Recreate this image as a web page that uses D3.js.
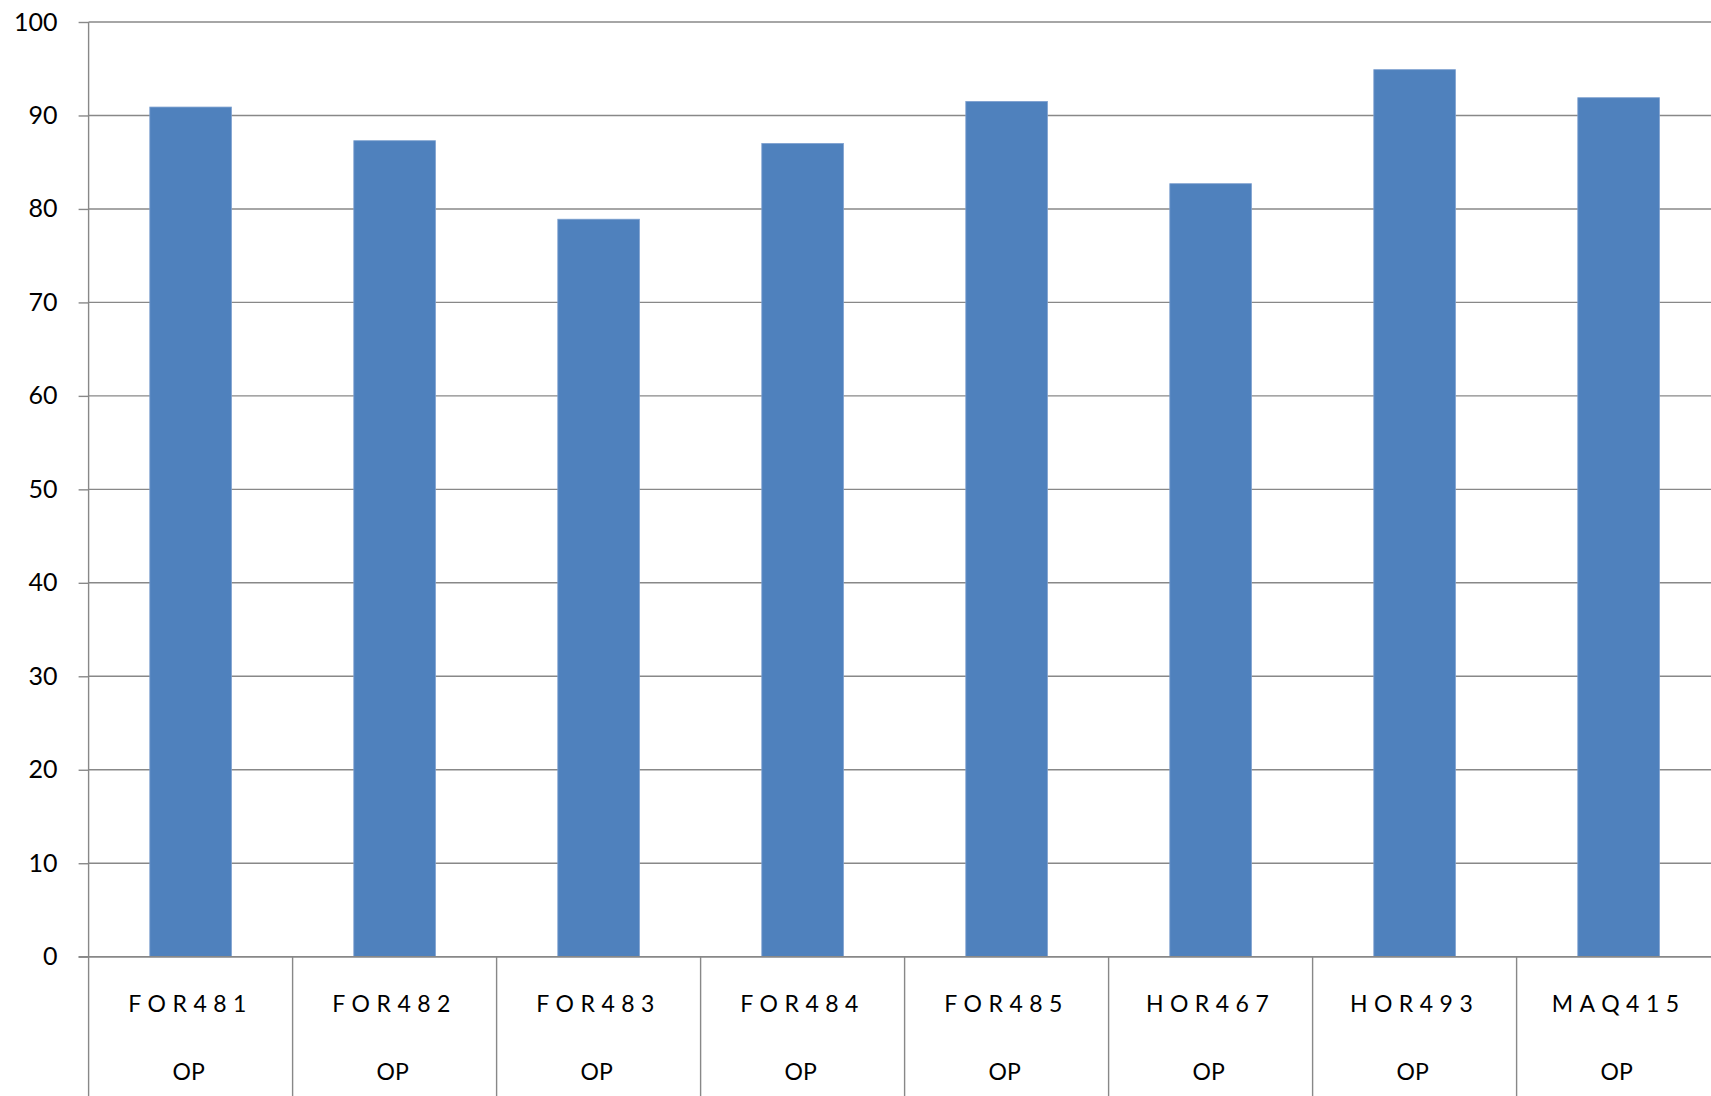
<!DOCTYPE html>
<html>
<head>
<meta charset="utf-8">
<script src="https://cdn.jsdelivr.net/npm/d3@7"></script>
<style>
  html, body { margin: 0; padding: 0; background: #fff; overflow: hidden; }
  svg { display: block; font-family: Lato, "Open Sans", sans-serif; }
</style>
</head>
<body>
<svg id="chart" width="1711" height="1096"></svg>
<script>
const categories = ["FOR481", "FOR482", "FOR483", "FOR484", "FOR485", "HOR467", "HOR493", "MAQ415"];
const groupLabels = ["OP", "OP", "OP", "OP", "OP", "OP", "OP", "OP"];
const values = [90.9, 87.3, 78.9, 87.0, 91.5, 82.7, 94.9, 91.9];
const yTicks = [0, 10, 20, 30, 40, 50, 60, 70, 80, 90, 100];

(function () {
const svg = d3.select("#chart");
const W = 1711, H = 1096;
const plotLeft = 88.6, cellW = 204, plotTop = 22, plotBottom = 956.7;
const gridColor = "#888888";

const xCell = d3.scaleBand().domain(categories).range([plotLeft, plotLeft + cellW * categories.length]);
const y = d3.scaleLinear().domain([0, 100]).range([plotBottom, plotTop]);

// ticks and labels
const yAxis = d3.axisLeft(y).tickValues(yTicks).tickSize(10).tickPadding(21).tickFormat(d3.format("d"));
const gY = svg.append("g").attr("transform", `translate(${plotLeft},0)`).call(yAxis);
gY.select(".domain").remove();
gY.selectAll(".tick line").attr("stroke", gridColor).attr("stroke-width", 1.4);
gY.selectAll(".tick text").attr("fill", "#000").attr("font-size", 25).attr("font-family", "Lato, 'Open Sans', sans-serif");

// gridlines
svg.append("g").selectAll("line").data(yTicks).join("line")
  .attr("x1", plotLeft).attr("x2", W)
  .attr("y1", d => y(d)).attr("y2", d => y(d))
  .attr("stroke", gridColor).attr("stroke-width", 1.4);

// bars
const barFrac = 0.4;
svg.append("g").selectAll("rect").data(categories).join("rect")
  .attr("x", (c) => xCell(c) + xCell.bandwidth() * (1 - barFrac) / 2)
  .attr("width", xCell.bandwidth() * barFrac)
  .attr("y", (c, i) => y(values[i]))
  .attr("height", (c, i) => y(0) - y(values[i]))
  .attr("fill", "#4F81BD")
  .attr("stroke", "#7c9fcf").attr("stroke-width", 0.8);

// value axis line
svg.append("line")
  .attr("x1", plotLeft).attr("x2", plotLeft).attr("y1", y(100)).attr("y2", H)
  .attr("stroke", gridColor).attr("stroke-width", 1.4);

// zero line on top
svg.append("line")
  .attr("x1", plotLeft - 10).attr("x2", W).attr("y1", y(0)).attr("y2", y(0))
  .attr("stroke", gridColor).attr("stroke-width", 1.4);

// category separators
svg.append("g").selectAll("line").data(categories).join("line")
  .attr("x1", c => xCell(c) + xCell.step())
  .attr("x2", c => xCell(c) + xCell.step())
  .attr("y1", y(0)).attr("y2", H)
  .attr("stroke", gridColor).attr("stroke-width", 1.4);

// category labels
svg.append("g").selectAll("text").data(categories).join("text")
  .attr("x", c => xCell(c) + xCell.bandwidth() / 2)
  .attr("y", 1011.5)
  .attr("text-anchor", "middle")
  .attr("font-size", 23)
  .attr("letter-spacing", "6.5px")
  .attr("fill", "#000")
  .text(c => c);

svg.append("g").selectAll("text").data(categories).join("text")
  .attr("x", c => xCell(c) + xCell.bandwidth() / 2 - 2)
  .attr("y", 1080)
  .attr("text-anchor", "middle")
  .attr("font-size", 23)
  .attr("fill", "#000")
  .text((c, i) => groupLabels[i]);
})();
</script>
</body>
</html>
